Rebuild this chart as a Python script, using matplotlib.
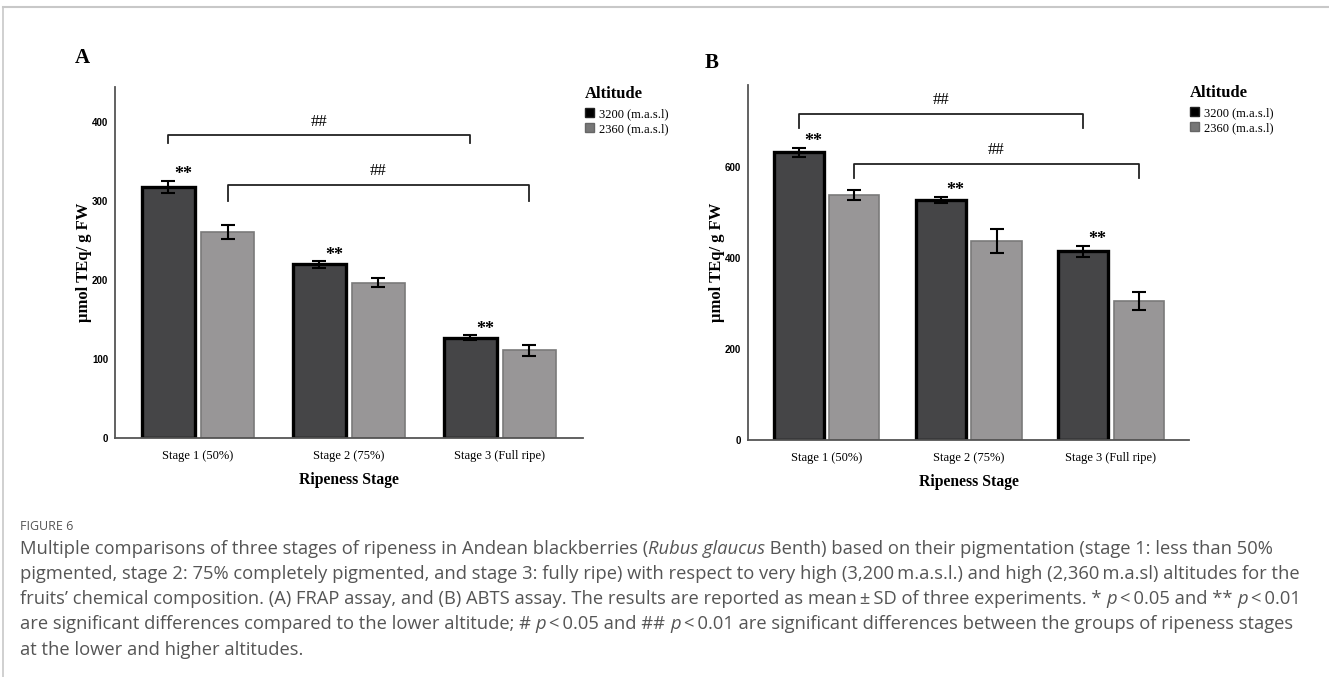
import numpy as np
import matplotlib
matplotlib.use("Agg")
import matplotlib.pyplot as plt
from matplotlib.lines import Line2D
from matplotlib.patches import Patch

# data
stages = ["Stage 1 (50%)", "Stage 2 (75%)", "Stage 3 (Full ripe)"]
altitudes = ["3200 (m.a.s.l)", "2360 (m.a.s.l)"]

frap_high = [318, 220, 127]
frap_high_sd = [8, 4, 3]
frap_low = [261, 197, 111]
frap_low_sd = [9, 6, 7]
frap_ticks = [0, 100, 200, 300, 400]

abts_high = [632, 528, 415]
abts_high_sd = [10, 7, 12]
abts_low = [538, 437, 305]
abts_low_sd = [11, 26, 20]
abts_ticks = [0, 200, 400, 600]

# brackets: (line height, leg bottom) for the 3200 pair and the 2360 pair
frap_brackets = [(384, 374), (321, 300)]
abts_brackets = [(717, 686), (607, 575)]

dark = "#454547"
light = "#989697"
serif = "Liberation Serif"
W = 1329
H = 677

fig = plt.figure(figsize=(W / 100, H / 100), dpi=100)


def panel(rect, high, high_sd, low, low_sd, ticks, brackets, ymax, letter, letter_xy, leg_xy):
    ax = fig.add_axes(rect)
    x = np.arange(len(stages))
    w = 0.352
    off = 0.196
    ax.bar(x - off, high, w, color=dark, edgecolor="black", linewidth=2.4, zorder=2)
    ax.bar(x + off, low, w, color=light, edgecolor="#7a7a7a", linewidth=1.2, zorder=2)
    ax.errorbar(x - off, high, yerr=high_sd, fmt="none", ecolor="black",
                elinewidth=1.5, capsize=4.7, capthick=1.5, zorder=3)
    ax.errorbar(x + off, low, yerr=low_sd, fmt="none", ecolor="black",
                elinewidth=1.5, capsize=4.7, capthick=1.5, zorder=3)

    ax.set_xlim(-0.55, 2.55)
    ax.set_ylim(0, ymax)
    ax.set_yticks(ticks)
    for s in ["top", "right"]:
        ax.spines[s].set_visible(False)
    for s in ["left", "bottom"]:
        ax.spines[s].set_color("#555555")
        ax.spines[s].set_linewidth(1.3)
    ax.tick_params(axis="y", length=0, pad=5, labelsize=7)
    ax.tick_params(axis="x", length=0, pad=9)
    ax.set_xticks(x)
    ax.set_xticklabels(stages, fontfamily=serif, fontsize=9)
    for t in ax.get_yticklabels():
        t.set_fontweight("bold")
        t.set_fontfamily("Liberation Sans")
    ax.set_xlabel("Ripeness Stage", fontfamily=serif, fontsize=11.3,
                  fontweight="bold", labelpad=7)
    ax.set_ylabel("\u00b5mol TEq/ g FW", fontfamily=serif, fontsize=12,
                  fontweight="bold", labelpad=0)

    # significance stars over the 3200 bars
    for i in range(len(stages)):
        ax.annotate("**", xy=(x[i] - off + 0.1, high[i] + high_sd[i]),
                    xytext=(0, 1), textcoords="offset points",
                    ha="center", va="baseline", fontfamily=serif, fontsize=13,
                    fontweight="bold")

    # ## brackets
    pairs = [(x[0] - off, x[2] - off), (x[0] + off, x[2] + off)]
    for (x0, x1), (yl, yb) in zip(pairs, brackets):
        ax.plot([x0, x0, x1, x1], [yb, yl, yl, yb], color="#222222", lw=1.3,
                clip_on=False, zorder=4)
        ax.annotate("##", xy=((x0 + x1) / 2, yl), xytext=(0, 4),
                    textcoords="offset points", ha="center", va="bottom",
                    fontfamily=serif, fontsize=12)

    fig.text(letter_xy[0] / W, 1 - letter_xy[1] / H, letter, fontfamily=serif,
             fontsize=15, fontweight="bold", ha="left", va="center")

    fig.text(leg_xy[0] / W, 1 - leg_xy[1] / H, "Altitude", fontfamily=serif,
             fontsize=12, fontweight="bold", ha="left", va="center")
    handles = [Patch(facecolor="black", edgecolor="#222222"),
               Patch(facecolor="#777777", edgecolor="#666666")]
    fig.legend(handles, altitudes, loc="upper left",
               bbox_to_anchor=(leg_xy[0] / W, 1 - (leg_xy[1] + 14) / H),
               frameon=False, handlelength=0.75, handleheight=0.75,
               handletextpad=0.4, labelspacing=0.25, borderpad=0,
               borderaxespad=0, prop={"family": serif, "size": 9})
    return ax


panel([115 / W, 1 - 438 / H, 467.6 / W, 351 / H],
      frap_high, frap_high_sd, frap_low, frap_low_sd, frap_ticks, frap_brackets, 445,
      "A", (75, 58), (585, 94))
panel([748.3 / W, 1 - 440 / H, 440.7 / W, 355 / H],
      abts_high, abts_high_sd, abts_low, abts_low_sd, abts_ticks, abts_brackets, 780,
      "B", (705, 63), (1190, 93))

# page frame lines
fig.add_artist(Line2D([3 / W, 1], [1 - 7 / H, 1 - 7 / H], color="#c8c8c8", lw=1.5))
fig.add_artist(Line2D([3 / W, 3 / W], [0, 1 - 7 / H], color="#c8c8c8", lw=1.2))

# caption
cap_font = "Open Sans"
cap_color = "#555555"
cap_size = 13.2
fig.text(20 / W, 1 - 527 / H, "FIGURE 6", fontfamily=cap_font, fontsize=9,
         color="#555555", va="center")

caption = [
    [("Multiple comparisons of three stages of ripeness in Andean blackberries (", "normal"),
     ("Rubus glaucus", "italic"),
     (" Benth) based on their pigmentation (stage 1: less than 50%", "normal")],
    [("pigmented, stage 2: 75% completely pigmented, and stage 3: fully ripe) with respect to very high (3,200\u2009m.a.s.l.) and high (2,360\u2009m.a.sl) altitudes for the", "normal")],
    [("fruits\u2019 chemical composition. (A) FRAP assay, and (B) ABTS assay. The results are reported as mean\u2009\u00b1\u2009SD of three experiments. * ", "normal"),
     ("p", "italic"), ("\u2009<\u20090.05 and ** ", "normal"), ("p", "italic"),
     ("\u2009<\u20090.01", "normal")],
    [("are significant differences compared to the lower altitude; # ", "normal"),
     ("p", "italic"), ("\u2009<\u20090.05 and ## ", "normal"), ("p", "italic"),
     ("\u2009<\u20090.01 are significant differences between the groups of ripeness stages", "normal")],
    [("at the lower and higher altitudes.", "normal")],
]
line_y = [549, 574, 599, 624, 650]

renderer = fig.canvas.get_renderer()
for segs, ly in zip(caption, line_y):
    xpos = 20 / W
    for txt, style in segs:
        t = fig.text(xpos, 1 - ly / H, txt, fontfamily=[cap_font, "DejaVu Sans"],
                     fontsize=cap_size, style=style, color=cap_color, va="center")
        bb = t.get_window_extent(renderer)
        xpos += bb.width / W

fig.savefig("out.png", dpi=100)
